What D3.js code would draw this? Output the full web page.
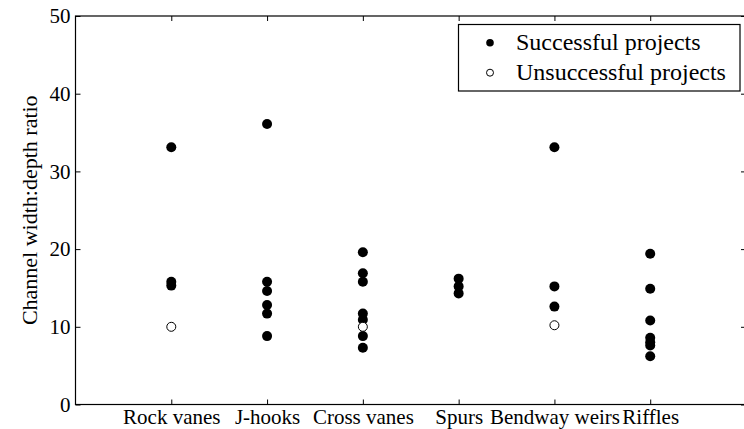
<!DOCTYPE html>
<html>
<head>
<meta charset="utf-8">
<script src="https://cdn.jsdelivr.net/npm/d3@7"></script>
<style>
  html, body { margin: 0; padding: 0; background: #fff; }
  svg { display: block; }
  text { font-family: "Liberation Serif", "Times New Roman", serif; fill: #000; }
</style>
</head>
<body>
<svg id="chart" width="744" height="429"></svg>
<script>
// Stabilisation structure types along the x axis
const categories = ["Rock vanes", "J-hooks", "Cross vanes", "Spurs", "Bendway weirs", "Riffles"];

// Channel width:depth ratio of each project, grouped by structure type
const successfulValues = [
  [33.1, 15.8, 15.3],
  [36.1, 15.8, 14.6, 12.8, 11.7, 8.8],
  [19.6, 16.9, 15.8, 11.7, 10.9, 8.8, 7.3],
  [16.2, 15.2, 14.3],
  [33.1, 15.2, 12.6],
  [19.4, 14.9, 10.8, 8.6, 8.0, 7.6, 6.2]
];
const unsuccessfulValues = [
  [10.0],
  [],
  [10.0],
  [],
  [10.2],
  []
];

const yTicks = [0, 10, 20, 30, 40, 50];
const legendLabels = ["Successful projects", "Unsuccessful projects"];

const svg = d3.select("#chart");
const plotLeft = 75.5, plotRight = 746, plotTop = 16, plotBottom = 404.5;

const x = d3.scalePoint().domain(categories).range([plotLeft, plotRight]).padding(1);
const y = d3.scaleLinear().domain([0, 50]).range([plotBottom, plotTop]);

// Frame
svg.append("rect")
  .attr("x", plotLeft).attr("y", plotTop)
  .attr("width", plotRight - plotLeft).attr("height", plotBottom - plotTop)
  .attr("fill", "none").attr("stroke", "#000").attr("stroke-width", 1.2);

const tickLen = 5;
const fontAxis = "21px";

// Left axis with inward ticks
const yAxisL = svg.append("g").attr("transform", `translate(${plotLeft},0)`)
  .call(d3.axisLeft(y).tickValues(yTicks).tickSize(-tickLen).tickPadding(5).tickFormat(d3.format("d")));
// Right axis, ticks only
const yAxisR = svg.append("g").attr("transform", `translate(${plotRight},0)`)
  .call(d3.axisRight(y).tickValues(yTicks).tickSize(-tickLen).tickFormat(""));
// Bottom axis with inward ticks and category labels
const xAxisB = svg.append("g").attr("transform", `translate(0,${plotBottom})`)
  .call(d3.axisBottom(x).tickSize(-tickLen).tickPadding(5));
// Top axis, ticks only
const xAxisT = svg.append("g").attr("transform", `translate(0,${plotTop})`)
  .call(d3.axisTop(x).tickSize(-tickLen).tickFormat(""));

[yAxisL, yAxisR, xAxisB, xAxisT].forEach(g => {
  g.select(".domain").remove();
  g.selectAll(".tick line").attr("stroke", "#000").attr("stroke-width", 1);
  g.selectAll("text")
    .style("font-family", '"Liberation Serif", "Times New Roman", serif')
    .style("font-size", fontAxis).attr("fill", "#000");
});

// Y axis title
svg.append("text")
  .attr("transform", `translate(37,${(plotTop + plotBottom) / 2}) rotate(-90)`)
  .attr("text-anchor", "middle")
  .style("font-size", "22px")
  .text("Channel width:depth ratio");

// Points
const pts = svg.append("g");
categories.forEach((c, i) => {
  pts.selectAll(null).data(successfulValues[i]).enter().append("circle")
    .attr("cx", x(c)).attr("cy", d => y(d)).attr("r", 5)
    .attr("fill", "#000");
  pts.selectAll(null).data(unsuccessfulValues[i]).enter().append("circle")
    .attr("cx", x(c)).attr("cy", d => y(d)).attr("r", 4.5)
    .attr("fill", "#fff").attr("stroke", "#000").attr("stroke-width", 1);
});

// Legend
const lg = svg.append("g");
lg.append("rect")
  .attr("x", 458.5).attr("y", 24.5).attr("width", 281.5).attr("height", 66.5)
  .attr("fill", "#fff").attr("stroke", "#000").attr("stroke-width", 1.2);
legendLabels.forEach((t, i) => {
  const cy = 42.7 + i * 30;
  lg.append("circle")
    .attr("cx", 490).attr("cy", cy).attr("r", i === 0 ? 3.8 : 3.5)
    .attr("fill", i === 0 ? "#000" : "#fff")
    .attr("stroke", "#000").attr("stroke-width", i === 0 ? 0 : 1);
  lg.append("text")
    .attr("x", 516).attr("y", cy + 7.5)
    .style("font-size", "24px")
    .text(t);
});
</script>
</body>
</html>
